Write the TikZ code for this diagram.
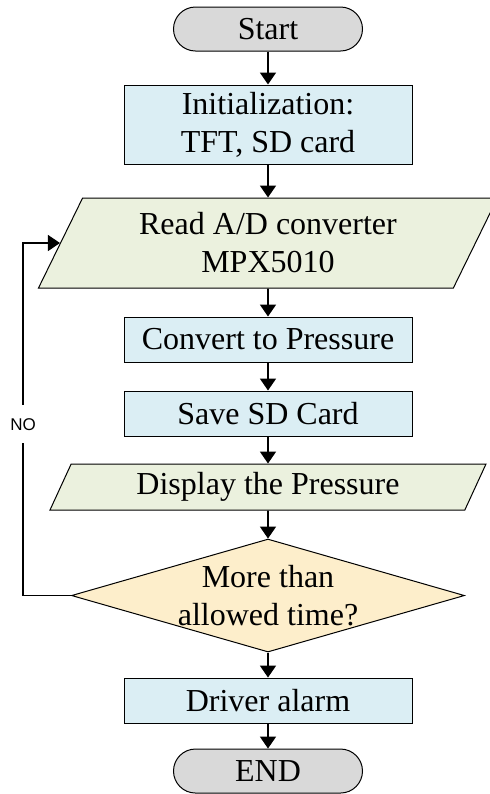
\documentclass[tikz,border=0pt]{standalone}
\usepackage{fontspec}
\setmainfont{Liberation Serif}
\newfontfamily\nofont{Liberation Sans}
\usetikzlibrary{shapes.geometric, arrows.meta, positioning}

\definecolor{termgray}{HTML}{D9D9D9}
\definecolor{procblue}{HTML}{DBEEF4}
\definecolor{iogreen}{HTML}{EBF1DE}
\definecolor{decyellow}{HTML}{FDEECB}

\tikzstyle{startstop} = [rectangle, rounded corners=11pt, minimum width=94.5pt, minimum height=22pt, text centered, draw=black, fill=termgray]
\tikzstyle{process} = [rectangle, minimum width=144pt, minimum height=22.5pt, text centered, align=center, draw=black, fill=procblue]
\tikzstyle{io} = [trapezium, trapezium left angle=63.5, trapezium right angle=116.5, trapezium stretches body, minimum height=23pt, text centered, align=center, draw=black, fill=iogreen]
\tikzstyle{decision} = [diamond, aspect=3.48, inner sep=-3pt, minimum width=196.5pt, minimum height=56.5pt, text centered, align=center, draw=black, fill=decyellow]
\tikzstyle{arrow} = [line width=0.9pt, -{Triangle[length=6pt, width=8pt]}]

\begin{document}
\begin{tikzpicture}[node distance=14pt, line width=0.5pt, font=\fontsize{16pt}{19pt}\selectfont]
\useasboundingbox (0,0) rectangle (245pt,-397pt);

\node (start) [startstop] at (134pt,-14.5pt) {Start};
\node (init) [process, below=16.5pt of start, minimum height=39.5pt] {Initialization:\\TFT, SD card};
\node (read) [io, below=16.5pt of init, minimum width=229.5pt, minimum height=45pt, inner ysep=7pt] {Read A/D converter\\MPX5010};
\node (convert) [process, below=of read] {Convert to Pressure};
\node (save) [process, below=of convert] {Save SD Card};
\node (display) [io, below=13.5pt of save, minimum width=218pt] {Display the Pressure};
\node (check) [decision, below=14pt of display] {More than\\allowed time?};
\node (alarm) [process, below=12.5pt of check] {Driver alarm};
\node (stop) [startstop, below=12.5pt of alarm] {END};

\draw [arrow] (start) -- (init);
\draw [arrow] (init) -- (read);
\draw [arrow] (read) -- (convert);
\draw [arrow] (convert) -- (save);
\draw [arrow] (save) -- (display);
\draw [arrow] (display) -- (check);
\draw [arrow] (check) -- (alarm);
\draw [arrow] (alarm) -- (stop);
\draw [arrow, line width=0.6pt] (check.west) --++(-24pt,0) |- node[pos=0.243, fill=white, inner xsep=2pt, inner ysep=6.5pt, font=\nofont\fontsize{8.5pt}{9pt}\selectfont]{NO} (read.west);

\end{tikzpicture}
\end{document}
